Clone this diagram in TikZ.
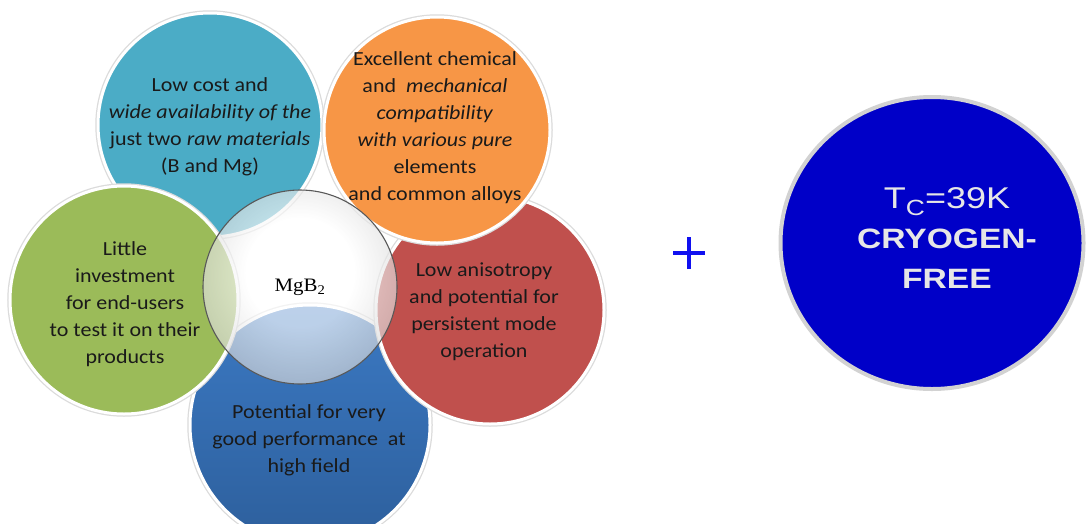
\documentclass[tikz,border=0pt]{standalone}
\usepackage{fontspec}
\setmainfont{Carlito}[FakeStretch=1.1]
\newfontfamily\tcfont{Liberation Sans}[FakeStretch=1.2]
\newfontfamily\formulafont{Liberation Serif}[FakeStretch=1.1]
\usetikzlibrary{shapes.geometric}

\definecolor{cyanA}{HTML}{4BACC6}
\definecolor{orangeA}{HTML}{F79646}
\definecolor{greenA}{HTML}{9BBB59}
\definecolor{redA}{HTML}{C0504D}
\definecolor{blueA}{HTML}{3B79C3}
\definecolor{blueB}{HTML}{2D5F9C}
\definecolor{txtdark}{HTML}{1A1A1A}
\definecolor{deepblue}{HTML}{0000C8}
\definecolor{plusblue}{HTML}{1010F0}
\definecolor{ringgray}{HTML}{D2D2D2}
\definecolor{lighttxt}{HTML}{E6E6E6}

% glassy ball in the middle
\pgfdeclareradialshading{mgball}{\pgfpoint{0bp}{5bp}}{%
  color(0bp)=(white); color(14bp)=(white); color(34bp)=(black!22);
  color(50bp)=(black!50); color(60bp)=(black!50)}

\tikzset{
  petal/.style={circle, inner sep=0pt, outer sep=0pt, draw=white, line width=3pt,
    preaction={draw=black!14, line width=5.5pt}},
  petaltext/.style={align=center, text=txtdark, font=\fontsize{20}{27}\selectfont, inner sep=0pt},
  bigline/.style={anchor=base, text=lighttxt, inner sep=0pt},
  plusbar/.style={draw=plusblue, line width=4pt},
}

\begin{document}
\begin{tikzpicture}[x=1pt, y=-1pt]
\useasboundingbox (0,0) rectangle (1086,523);
\clip (0,0) rectangle (1086,523);
\fill[white] (0,0) rectangle (1086,523);

% the five petals, back to front
\node[petal, minimum size=224pt, fill=cyanA] (cost) at (210,125) {};
\node[petal, minimum size=240pt, top color=blueA, bottom color=blueB] (field) at (310,425) {};
\node[petal, minimum size=228pt, fill=redA] (aniso) at (490,310) {};
\node[petal, minimum size=226pt, fill=orangeA] (compat) at (437,130) {};
\node[petal, minimum size=228pt, fill=greenA] (invest) at (124,300) {};

% translucent centre
\node[circle, inner sep=0pt, minimum size=194pt, shading=mgball, fill opacity=0.66,
      draw=black!65, draw opacity=1, line width=1.1pt] (core) at (300,287) {};
\node[text=black, font=\formulafont\fontsize{19}{19}\selectfont, inner sep=0pt] (mgb) at (300,287) {MgB\textsubscript{2}};

% petal texts
\node[petaltext] (costtxt) at (210,127) {Low cost and\\ \textit{wide availability of the}\\ just two \textit{raw materials}\\ (B and Mg)};
\node[petaltext] (compattxt) at (435,128) {Excellent chemical\\ and~ \textit{mechanical}\\ \textit{compatibility}\\ \textit{with various pure}\\ elements\\ and common alloys};
\node[petaltext] (investtxt) at (125,304) {Little\\ investment\\ for end-users\\ to test it on their\\ products};
\node[petaltext] (anisotxt) at (484,312) {Low anisotropy\\ and potential for\\ persistent mode\\ operation};
\node[petaltext] (fieldtxt) at (309,440) {Potential for very\\ good performance~ at\\ high field};

% plus sign
\coordinate (plus) at (689,253);
\draw[plusbar] ([xshift=-16pt]plus) -- ([xshift=16pt]plus);
\draw[plusbar] ([yshift=-16pt]plus) -- ([yshift=16pt]plus);

% cryogen-free disc
\node[ellipse, inner sep=0pt, minimum width=303pt, minimum height=292pt,
      fill=deepblue, draw=ringgray, line width=4pt] (disc) at (932,243) {};
\node[bigline, font=\tcfont\fontsize{30}{30}\selectfont] (tc) at (947,208)
  {T\raisebox{-7pt}{\fontsize{22}{22}\selectfont C}=39K};
\node[bigline, font=\tcfont\bfseries\fontsize{28}{28}\selectfont] (cryo) at (947,248) {CRYOGEN-};
\node[bigline, font=\tcfont\bfseries\fontsize{28}{28}\selectfont] (free) at (947,288) {FREE};
\end{tikzpicture}
\end{document}
